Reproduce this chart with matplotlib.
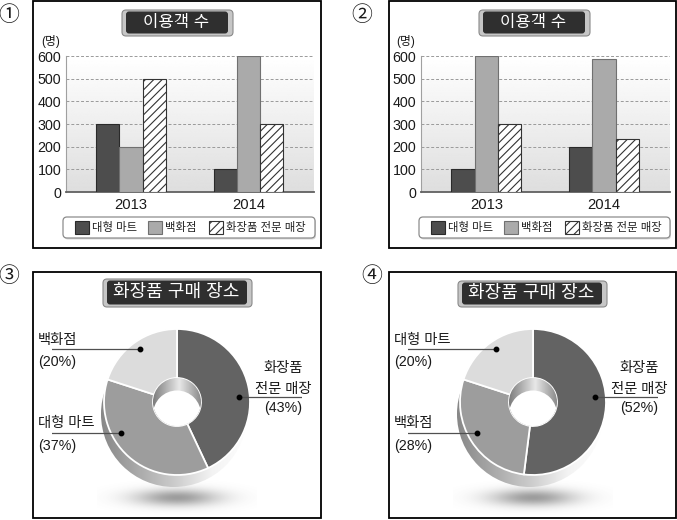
import numpy as np
import matplotlib
matplotlib.use('Agg')
import matplotlib.pyplot as plt
from matplotlib.patches import FancyBboxPatch, Rectangle, Circle
from matplotlib.colors import LinearSegmentedColormap

plt.rcParams['font.family'] = ['Liberation Sans', 'Noto Sans CJK KR', 'DejaVu Sans']
plt.rcParams['hatch.linewidth'] = 0.8

# ---------------- data ----------------
years = ['2013', '2014']
series_names = ['대형 마트', '백화점', '화장품 전문 매장']
p1_mart = [300, 100]
p1_dept = [200, 600]
p1_cosm = [500, 300]
p2_mart = [100, 200]
p2_dept = [600, 585]
p2_cosm = [300, 235]
y_ticks = [0, 100, 200, 300, 400, 500, 600]
bar_title = '이용객 수'
y_unit = '(명)'

pie_title = '화장품 구매 장소'
p3_labels = ['화장품\n전문 매장', '대형 마트', '백화점']
p3_values = [43, 37, 20]
p4_labels = ['화장품\n전문 매장', '백화점', '대형 마트']
p4_values = [52, 28, 20]
panel_marks = ['①', '②', '③', '④']

# ---------------- styles ----------------
C_DARK = '#4d4d4d'
C_LIGHT = '#aaaaaa'
HATCH = '////'
PIE_COLORS = ['#636363', '#9d9d9d', '#dcdcdc']

W, H = 677, 520
fig = plt.figure(figsize=(W / 100, H / 100), dpi=100)
canvas = fig.add_axes([0, 0, 1, 1], zorder=0)
canvas.set_xlim(0, W)
canvas.set_ylim(H, 0)
canvas.axis('off')


def frame(x0, y0, x1, y1):
    canvas.add_patch(Rectangle((x0, y0), x1 - x0, y1 - y0, fill=False,
                               ec='black', lw=1.3))


def title_box(x0, y0, x1, y1, text, size):
    canvas.add_patch(FancyBboxPatch((x0, y0), x1 - x0, y1 - y0,
                                    boxstyle='round,pad=0,rounding_size=4',
                                    fc='#c6c6c6', ec='#8a8a8a', lw=0.8))
    canvas.add_patch(FancyBboxPatch((x0 + 4, y0 + 1.5), x1 - x0 - 9, y1 - y0 - 4,
                                    boxstyle='round,pad=0,rounding_size=3',
                                    fc='#2f2f2f', ec='none'))
    canvas.text((x0 + x1) / 2 - 1, (y0 + y1) / 2 - 0.5, text, color='white',
                fontsize=size, ha='center', va='center')


def legend_box(x0, y0, x1, y1):
    canvas.add_patch(FancyBboxPatch((x0 + 1, y0 + 1.5), x1 - x0, y1 - y0,
                                    boxstyle='round,pad=0,rounding_size=4',
                                    fc='#d8d8d8', ec='none'))
    canvas.add_patch(FancyBboxPatch((x0, y0), x1 - x0, y1 - y0,
                                    boxstyle='round,pad=0,rounding_size=4',
                                    fc='white', ec='#8c8c8c', lw=0.9))
    offs = [12, 85, 146]
    styles = [dict(fc=C_DARK, ec='#2a2a2a'), dict(fc=C_LIGHT, ec='#707070'),
              dict(fc='white', ec='#333333', hatch=HATCH)]
    yc = (y0 + y1) / 2
    for name, off, st in zip(series_names, offs, styles):
        canvas.add_patch(Rectangle((x0 + off, yc - 6.5), 14, 13, lw=0.8, **st))
        canvas.text(x0 + off + 16.5, yc, name, fontsize=8.2, ha='left', va='center',
                    color='#222222')


def bar_panel(left, right, top, bottom, mart, dept, cosm):
    ax = fig.add_axes([left / W, 1 - bottom / H, (right - left) / W, (bottom - top) / H],
                      zorder=1)
    x = np.arange(len(years))
    w = 0.198
    xl = (-0.555, 1.56)
    grad = np.linspace(0.87, 1.0, 256).reshape(-1, 1)
    ax.imshow(grad, extent=(xl[0], xl[1], 0, 600), origin='lower', cmap='gray',
              vmin=0, vmax=1, aspect='auto', zorder=0)
    ax.bar(x - w, mart, w, color=C_DARK, ec='#2a2a2a', lw=0.8, zorder=3)
    ax.bar(x, dept, w, color=C_LIGHT, ec='#707070', lw=0.8, zorder=3)
    ax.bar(x + w, cosm, w, color='white', ec='#333333', hatch=HATCH, lw=0.8, zorder=3)
    ax.set_xlim(*xl)
    ax.set_ylim(0, 600)
    ax.set_yticks(y_ticks)
    ax.set_xticks(x)
    ax.set_xticklabels(years)
    ax.set_axisbelow(True)
    ax.yaxis.grid(True, ls=(0, (3, 2)), color='#9a9a9a', lw=0.7)
    ax.tick_params(axis='y', length=0, pad=3.5, labelsize=10.3, labelcolor='#1a1a1a')
    ax.tick_params(axis='x', length=0, pad=4, labelsize=10.6, labelcolor='#1a1a1a')
    for s in ['top', 'right']:
        ax.spines[s].set_visible(False)
    ax.spines['left'].set_color('#a0a0a0')
    ax.spines['left'].set_linewidth(0.8)
    ax.spines['bottom'].set_color('#606060')
    ax.spines['bottom'].set_linewidth(1.3)
    return ax


def pie_panel(cx, cy, values, labels):
    S = 125
    u = 100.0
    ax = fig.add_axes([(cx - S) / W, 1 - (cy + S) / H, 2 * S / W, 2 * S / H], zorder=1)
    R = 0.73
    rh = 0.24
    # floor shadow
    gx = np.linspace(-0.8, 0.8, 320)
    gy = np.linspace(-1.15, -0.78, 90)
    X, Y = np.meshgrid(gx, gy)
    a = np.exp(-((X / 0.42) ** 2 + ((Y + 0.955) / 0.085) ** 2))
    img = np.zeros((len(gy), len(gx), 4))
    img[..., :3] = 0.38
    img[..., 3] = a * 0.62
    ax.imshow(img, extent=(-0.8, 0.8, -1.15, -0.78), origin='lower', zorder=0,
              interpolation='bilinear', aspect='auto')
    # side rim (3D extrusion)
    rim = Circle((-0.03, -0.12), R, transform=ax.transData)
    cmap = LinearSegmentedColormap.from_list(
        'rim', [(0, '#858585'), (0.5, '#cbcbcb'), (0.75, '#f3f3f3'), (1, '#ffffff')])
    grad = np.linspace(0, 1, 256).reshape(1, -1)
    im = ax.imshow(grad, extent=(-0.79, 0.73, -0.88, 0.64), cmap=cmap,
                   aspect='auto', zorder=1)
    im.set_clip_path(rim)
    # donut top face
    ax.pie(values, colors=PIE_COLORS, startangle=90, counterclock=False, radius=R,
           wedgeprops=dict(width=R - rh, edgecolor='white', linewidth=1.3, zorder=2))
    # hole wall + opening
    hole = Circle((0, 0), rh, transform=ax.transData)
    cmap2 = LinearSegmentedColormap.from_list(
        'wall', [(0, '#7c7c7c'), (0.55, '#e8e8e8'), (1, '#8a8a8a')])
    im2 = ax.imshow(grad, extent=(-rh, rh, -rh, rh), cmap=cmap2, aspect='auto', zorder=3)
    im2.set_clip_path(hole)
    wh = Circle((0, -0.125), rh, fc='white', ec='none', zorder=4)
    ax.add_patch(wh)
    wh.set_clip_path(hole)

    # labels: light wedge (upper left), mid wedge (lower left), dark wedge (right)
    fs = 10.3
    lc = '#505050'
    ax.plot([0.62, 1.37], [0.05, 0.05], color=lc, lw=0.9, zorder=5)
    ax.plot([0.62], [0.05], 'o', color='black', ms=3.2, zorder=6)
    l1, l2 = labels[0].split('\n')
    ax.text(1.06, 0.34, l1, fontsize=fs, ha='center', va='center', color='#1a1a1a')
    ax.text(1.06, 0.13, l2, fontsize=fs, ha='center', va='center', color='#1a1a1a')
    ax.text(1.06, -0.06, f'({values[0]}%)', fontsize=fs, ha='center', va='center',
            color='#1a1a1a')
    ax.plot([-1.39, -0.56], [-0.31, -0.31], color=lc, lw=0.9, zorder=5)
    ax.plot([-0.56], [-0.31], 'o', color='black', ms=3.2, zorder=6)
    ax.text(-1.39, -0.21, labels[1], fontsize=fs, ha='left', va='center', color='#1a1a1a')
    ax.text(-1.39, -0.44, f'({values[1]}%)', fontsize=fs, ha='left', va='center',
            color='#1a1a1a')
    ax.plot([-1.39, -0.37], [0.53, 0.53], color=lc, lw=0.9, zorder=5)
    ax.plot([-0.37], [0.53], 'o', color='black', ms=3.2, zorder=6)
    ax.text(-1.39, 0.62, labels[2], fontsize=fs, ha='left', va='center', color='#1a1a1a')
    ax.text(-1.39, 0.40, f'({values[2]}%)', fontsize=fs, ha='left', va='center',
            color='#1a1a1a')

    ax.set_xlim(-S / u, S / u)
    ax.set_ylim(-S / u, S / u)
    ax.set_aspect('equal')
    ax.axis('off')
    return ax


# ---------------- panel 1 & 2 (bars) ----------------
frame(33, 1, 321, 248)
frame(389, 1, 676, 248)
title_box(122, 10, 233, 36, bar_title, 12)
title_box(479, 10, 590, 36, bar_title, 12)
canvas.text(51, 42, y_unit, fontsize=8.5, ha='center', va='center', color='#1a1a1a')
canvas.text(406, 42, y_unit, fontsize=8.5, ha='center', va='center', color='#1a1a1a')
bar_panel(66, 314, 56, 192, p1_mart, p1_dept, p1_cosm)
bar_panel(421, 670, 56, 192, p2_mart, p2_dept, p2_cosm)
legend_box(63, 217, 315, 238)
legend_box(419, 217, 670, 238)

# ---------------- panel 3 & 4 (donuts) ----------------
frame(33, 272, 321, 518)
frame(389, 272, 676, 518)
title_box(103, 279, 252, 307, pie_title, 13)
title_box(458, 281, 607, 307, pie_title, 13)
pie_panel(177, 402, p3_values, p3_labels)
pie_panel(533, 402, p4_values, p4_labels)

# ---------------- circled numbers ----------------
for (px, py), m in zip([(9, 15), (362, 15), (9, 276), (372, 276)], panel_marks):
    canvas.text(px, py, m, fontsize=15, ha='center', va='center', color='#1a1a1a',
                family=['Noto Sans CJK KR', 'DejaVu Sans'])

fig.savefig('out.png', dpi=100)
